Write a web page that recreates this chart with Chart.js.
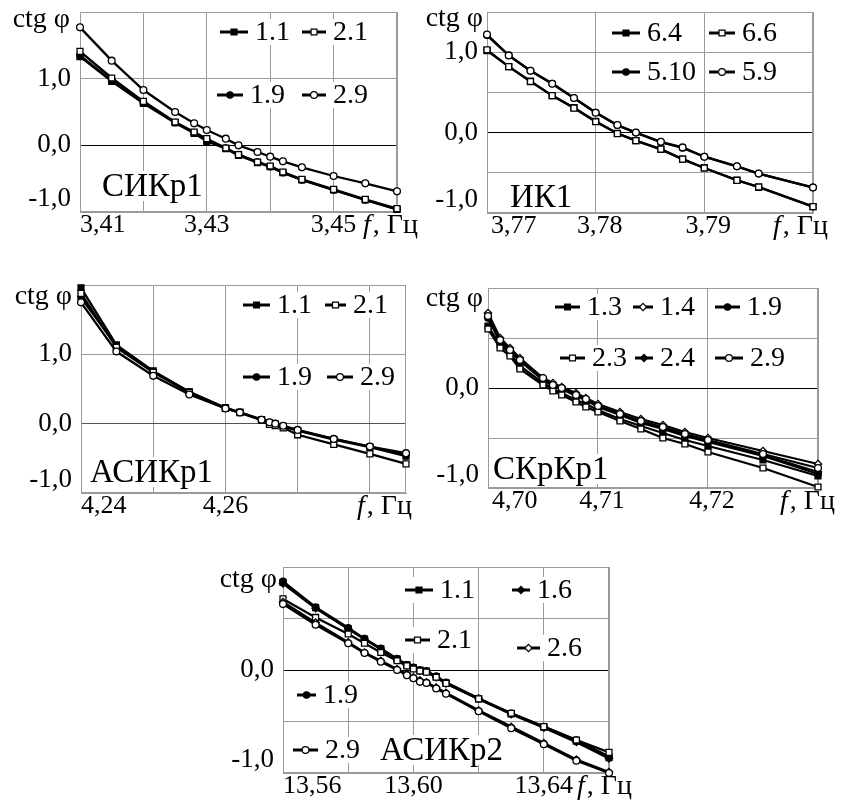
<!DOCTYPE html>
<html>
<head>
<meta charset="utf-8">
<script src="https://cdn.jsdelivr.net/npm/chart.js@4.4.0/dist/chart.umd.min.js"></script>
<style>
  html, body { margin: 0; padding: 0; background: #fff; }
  body { width: 842px; height: 812px; position: relative; overflow: hidden; }
  canvas { position: absolute; }
</style>
</head>
<body>
<script>
// ---------- СИКр1 ----------
const P1_F   = [3.410, 3.415, 3.420, 3.425, 3.428, 3.430, 3.433, 3.435, 3.438, 3.440, 3.442, 3.445, 3.450, 3.455, 3.460];
const P1_S11 = [1.33, 0.96, 0.63, 0.34, 0.18, 0.06, -0.05, -0.15, -0.26, -0.32, -0.41, -0.52, -0.67, -0.82, -0.96];
const P1_S21 = [1.41, 1.01, 0.66, 0.35, 0.20, 0.10, -0.04, -0.14, -0.25, -0.31, -0.40, -0.51, -0.66, -0.81, -0.95];
const P1_S19 = [1.35, 0.97, 0.64, 0.34, 0.19, 0.07, -0.04, -0.14, -0.25, -0.32, -0.41, -0.52, -0.67, -0.82, -0.96];
const P1_S29 = [1.77, 1.27, 0.83, 0.50, 0.33, 0.23, 0.10, 0.00, -0.10, -0.17, -0.24, -0.33, -0.46, -0.57, -0.69];
const P1_XTICKS = [3.41, 3.42, 3.43, 3.44, 3.45, 3.46];
const P1_XLABELS = ['3,41', '', '3,43', '', '3,45', ''];
const P1_YTICKS = [-1, 0, 1, 2];
const P1_YLABELS = ['-1,0', '0,0', '1,0', ''];

// ---------- ИК1 ----------
const P2_F    = [3.770, 3.772, 3.774, 3.776, 3.778, 3.780, 3.782, 3.7837, 3.786, 3.788, 3.790, 3.793, 3.795, 3.800];
const P2_S64  = [1.02, 0.82, 0.64, 0.46, 0.31, 0.14, -0.01, -0.10, -0.21, -0.33, -0.44, -0.59, -0.68, -0.92];
const P2_S66  = [1.03, 0.82, 0.635, 0.46, 0.305, 0.135, -0.012, -0.10, -0.205, -0.33, -0.44, -0.594, -0.676, -0.92];
const P2_S510 = [1.21, 0.96, 0.77, 0.61, 0.43, 0.25, 0.09, 0.0, -0.12, -0.19, -0.30, -0.42, -0.51, -0.68];
const P2_S59  = [1.22, 0.96, 0.77, 0.607, 0.43, 0.246, 0.094, 0.0, -0.115, -0.184, -0.30, -0.42, -0.51, -0.684];
const P2_XTICKS = [3.77, 3.78, 3.79, 3.80];
const P2_XLABELS = ['3,77', '3,78', '3,79', ''];
const P2_YTICKS = [-1, -0.5, 0, 0.5, 1, 1.5];
const P2_YLABELS = ['-1,0', '', '0,0', '', '1,0', ''];

// ---------- АСИКр1 ----------
const P3_F   = [4.2400, 4.2449, 4.2500, 4.2550, 4.2600, 4.2620, 4.2650, 4.2661, 4.2669, 4.2680, 4.2700, 4.2750, 4.2800, 4.2850];
const P3_S11 = [1.96, 1.135, 0.76, 0.46, 0.23, 0.165, 0.06, 0.01, -0.005, -0.04, -0.10, -0.23, -0.34, -0.47];
const P3_S21 = [1.88, 1.10, 0.74, 0.45, 0.22, 0.16, 0.05, -0.01, -0.03, -0.06, -0.16, -0.30, -0.435, -0.58];
const P3_S19 = [1.82, 1.12, 0.75, 0.455, 0.225, 0.165, 0.06, 0.015, 0.0, -0.04, -0.095, -0.22, -0.33, -0.45];
const P3_S29 = [1.75, 1.04, 0.69, 0.42, 0.22, 0.16, 0.055, 0.02, 0.0, -0.03, -0.09, -0.22, -0.33, -0.425];
const P3_XTICKS = [4.24, 4.25, 4.26, 4.27, 4.28];
const P3_XLABELS = ['4,24', '', '4,26', '', ''];
const P3_YTICKS = [-1, 0, 1, 2];
const P3_YLABELS = ['-1,0', '0,0', '1,0', ''];

// ---------- СКрКр1 ----------
const P4_F   = [4.7000, 4.7011, 4.7020, 4.7029, 4.7050, 4.7059, 4.7067, 4.7080, 4.7089, 4.7100, 4.7120, 4.7139, 4.7159, 4.7179, 4.7200, 4.7250, 4.7300];
const P4_S13 = [0.62, 0.43, 0.35, 0.22, 0.05, -0.01, -0.05, -0.12, -0.16, -0.22, -0.31, -0.38, -0.45, -0.52, -0.58, -0.72, -0.88];
const P4_S14 = [0.75, 0.50, 0.40, 0.30, 0.10, 0.05, 0.01, -0.05, -0.10, -0.16, -0.24, -0.31, -0.37, -0.44, -0.50, -0.63, -0.76];
const P4_S19 = [0.70, 0.46, 0.37, 0.27, 0.08, 0.02, -0.01, -0.08, -0.12, -0.19, -0.27, -0.35, -0.41, -0.48, -0.54, -0.68, -0.86];
const P4_S23 = [0.59, 0.40, 0.32, 0.19, 0.03, -0.03, -0.07, -0.14, -0.19, -0.24, -0.33, -0.41, -0.50, -0.56, -0.64, -0.80, -0.99];
const P4_S24 = [0.71, 0.47, 0.38, 0.28, 0.09, 0.03, 0.00, -0.07, -0.12, -0.18, -0.26, -0.34, -0.40, -0.47, -0.53, -0.67, -0.84];
const P4_S29 = [0.72, 0.48, 0.38, 0.28, 0.10, 0.03, 0.00, -0.07, -0.11, -0.18, -0.26, -0.33, -0.39, -0.46, -0.52, -0.66, -0.80];
const P4_XTICKS = [4.70, 4.71, 4.72, 4.73];
const P4_XLABELS = ['4,70', '4,71', '4,72', ''];
const P4_YTICKS = [-1, -0.5, 0, 0.5, 1];
const P4_YLABELS = ['-1,0', '', '0,0', '', ''];

// ---------- АСИКр2 ----------
const P5_F   = [13.560, 13.570, 13.580, 13.585, 13.590, 13.595, 13.598, 13.600, 13.602, 13.604, 13.607, 13.610, 13.620, 13.630, 13.640, 13.650, 13.660];
const P5_S11 = [0.85, 0.605, 0.40, 0.30, 0.205, 0.105, 0.05, 0.02, 0.0, -0.01, -0.065, -0.125, -0.28, -0.425, -0.555, -0.69, -0.85];
const P5_S16 = [0.84, 0.60, 0.40, 0.30, 0.20, 0.10, 0.045, 0.02, -0.005, -0.015, -0.07, -0.13, -0.28, -0.43, -0.56, -0.70, -0.86];
const P5_S19 = [0.86, 0.61, 0.41, 0.305, 0.21, 0.11, 0.05, 0.025, 0.0, -0.01, -0.06, -0.12, -0.275, -0.42, -0.55, -0.68, -0.84];
const P5_S21 = [0.69, 0.51, 0.35, 0.26, 0.17, 0.09, 0.04, 0.01, -0.01, -0.02, -0.07, -0.13, -0.28, -0.42, -0.55, -0.68, -0.80];
const P5_S26 = [0.66, 0.46, 0.27, 0.17, 0.09, 0.01, -0.04, -0.07, -0.10, -0.12, -0.17, -0.22, -0.39, -0.55, -0.71, -0.87, -0.99];
const P5_S29 = [0.64, 0.44, 0.26, 0.165, 0.08, 0.0, -0.05, -0.08, -0.115, -0.125, -0.18, -0.23, -0.40, -0.565, -0.72, -0.88, -1.0];
const P5_XTICKS = [13.56, 13.58, 13.60, 13.62, 13.64, 13.66];
const P5_XLABELS = ['13,56', '', '13,60', '', '13,64', ''];
const P5_YTICKS = [-1, -0.5, 0, 0.5, 1];
const P5_YLABELS = ['-1,0', '', '0,0', '', ''];

// ---------- drawing ----------
const SERIF = '"Liberation Serif", "Times New Roman", serif';
const GRID = '#9a9a9a';
const Y_GAP = 80, TOP_PAD = 12, X_BAND = 40, RIGHT_PAD = 34;

// marker kinds: [Chart.js pointStyle, filled, radius]
const MARK = {
  fsq: ['rect', true, 4.2], osq: ['rect', false, 4.2],
  fci: ['circle', true, 3.2], oci: ['circle', false, 3.4],
  fdi: ['rectRot', true, 3.6], odi: ['rectRot', false, 3.6]
};

function drawMarker(ctx, kind, x, y) {
  const [shape, filled, r] = MARK[kind];
  ctx.beginPath();
  if (shape === 'circle') ctx.arc(x, y, r, 0, Math.PI * 2);
  else if (shape === 'rect') { const s = r * Math.SQRT1_2; ctx.rect(x - s, y - s, 2 * s, 2 * s); }
  else { ctx.moveTo(x, y - r); ctx.lineTo(x + r, y); ctx.lineTo(x, y + r); ctx.lineTo(x - r, y); ctx.closePath(); }
  ctx.fillStyle = filled ? '#000' : '#fff';
  ctx.fill();
  ctx.lineWidth = 1.2;
  ctx.strokeStyle = '#000';
  ctx.stroke();
}

function dataset(label, xs, ys, kind) {
  const [shape, filled, r] = MARK[kind];
  return {
    label,
    data: xs.map((x, i) => ({ x, y: ys[i] })),
    showLine: true,
    borderColor: '#000',
    borderWidth: 2.3,
    tension: 0,
    pointStyle: shape,
    pointRadius: r,
    pointBackgroundColor: filled ? '#000' : '#fff',
    pointBorderColor: '#000',
    pointBorderWidth: 1.3,
    clip: false
  };
}

function decoPlugin(p) {
  return {
    id: 'deco',
    beforeDraw(chart) {
      // lowest y label sits on top of its grid line
      const items = chart.scales.y.getLabelItems(chart.chartArea);
      if (items.length) items[0].options.textBaseline = 'bottom';
    },
    beforeDatasetsDraw(chart) {
      const { ctx, chartArea: a } = chart;
      ctx.save();
      ctx.fillStyle = '#fff';
      ctx.font = '28px ' + SERIF;
      p.legend.forEach(e => {
        const w = ctx.measureText(e.t).width;
        ctx.fillRect(a.left + e.lx - 3, a.top + e.y - 13, e.tx - e.lx + w + 6, 26);
      });
      ctx.font = '33px ' + SERIF;
      const nw = ctx.measureText(p.name.t).width;
      ctx.fillRect(a.left + p.name.x - 2, a.top + p.name.y - 15, nw + 4, 30);
      ctx.strokeStyle = GRID;
      ctx.lineWidth = 1;
      ctx.strokeRect(Math.round(a.left) + 0.5, Math.round(a.top) + 0.5,
                     Math.round(a.right - a.left) - 1, Math.round(a.bottom - a.top) - 1);
      ctx.restore();
    },
    afterDatasetsDraw(chart) {
      const { ctx, chartArea: a } = chart;
      ctx.save();
      ctx.textBaseline = 'middle';
      ctx.textAlign = 'left';
      // legend entries
      p.legend.forEach(e => {
        const x0 = a.left + e.lx, x1 = a.left + e.tx - 7, y = a.top + e.y;
        ctx.beginPath();
        ctx.moveTo(x0, y); ctx.lineTo(x1, y);
        ctx.lineWidth = 3; ctx.strokeStyle = '#000'; ctx.stroke();
        drawMarker(ctx, e.k, (x0 + x1) / 2, y);
        ctx.fillStyle = '#000';
        ctx.font = '28px ' + SERIF;
        ctx.fillText(e.t, a.left + e.tx, y + 1);
      });
      // curve family caption
      ctx.fillStyle = '#000';
      ctx.font = '33px ' + SERIF;
      ctx.fillText(p.name.t, a.left + p.name.x, a.top + p.name.y + 1);
      // axis names
      ctx.font = '28px ' + SERIF;
      ctx.textAlign = 'right';
      ctx.fillText('ctg φ', a.left + p.ctg.dx, a.top + p.ctg.dy);
      ctx.textAlign = 'left';
      const fx = a.right + p.fx, fy = a.bottom + 14;
      ctx.font = 'italic 28px ' + SERIF;
      ctx.fillText('f', fx, fy);
      const fw = ctx.measureText('f').width;
      ctx.font = '28px ' + SERIF;
      ctx.fillText(', Гц', fx + fw + 2, fy);
      ctx.restore();
    }
  };
}

function makePanel(p) {
  const [pl, pt, pw, ph] = p.plot;
  const cv = document.createElement('canvas');
  const W = pw + Y_GAP + RIGHT_PAD, H = ph + TOP_PAD + X_BAND;
  cv.width = W; cv.height = H;
  cv.style.left = (pl - Y_GAP) + 'px';
  cv.style.top = (pt - TOP_PAD) + 'px';
  cv.style.width = W + 'px'; cv.style.height = H + 'px';
  document.body.appendChild(cv);

  const noPad = s => { s.paddingLeft = 0; s.paddingRight = 0; s.paddingTop = 0; s.paddingBottom = 0; };

  new Chart(cv, {
    type: 'scatter',
    data: { datasets: p.series.map(s => dataset(s[0], p.f, s[1], s[2])) },
    options: {
      responsive: false,
      animation: false,
      events: [],
      layout: { padding: { top: TOP_PAD, right: RIGHT_PAD, left: 0, bottom: 0 } },
      plugins: { legend: { display: false }, tooltip: { enabled: false } },
      scales: {
        x: {
          type: 'linear', min: p.x.min, max: p.x.max,
          afterBuildTicks: s => { s.ticks = p.x.ticks.map(v => ({ value: v })); },
          afterFit: s => { s.height = X_BAND; noPad(s); },
          grid: { color: GRID, lineWidth: 1, drawTicks: false },
          border: { color: GRID, width: 1 },
          ticks: {
            autoSkip: false, maxRotation: 0, minRotation: 0, align: 'inner',
            padding: -2, labelOffset: p.x.off, color: '#000',
            font: { family: SERIF, size: 26 },
            callback: (v, i) => p.x.labels[i]
          }
        },
        y: {
          type: 'linear', min: p.y.min, max: p.y.max,
          afterBuildTicks: s => { s.ticks = p.y.ticks.map(v => ({ value: v })); },
          afterFit: s => { s.width = Y_GAP; noPad(s); },
          grid: {
            color: c => (c.tick && c.tick.value === 0) ? p.zero : GRID,
            lineWidth: 1, drawTicks: false
          },
          border: { color: GRID, width: 1 },
          ticks: {
            autoSkip: false, padding: 9, color: '#000',
            font: { family: SERIF, size: 27 },
            callback: (v, i) => p.y.labels[i]
          }
        }
      }
    },
    plugins: [decoPlugin(p)]
  });
}

const PANELS = [
  {
    plot: [80, 12, 317, 200], f: P1_F, zero: '#000',
    x: { min: 3.41, max: 3.46, ticks: P1_XTICKS, labels: P1_XLABELS, off: 0 },
    y: { min: -1, max: 2, ticks: P1_YTICKS, labels: P1_YLABELS },
    series: [['2.1', P1_S21, 'osq'], ['1.1', P1_S11, 'fsq'], ['2.9', P1_S29, 'oci'], ['1.9', P1_S19, 'fci']],
    legend: [
      { t: '1.1', k: 'fsq', lx: 140, y: 20, tx: 175 },
      { t: '2.1', k: 'osq', lx: 222, y: 20, tx: 253 },
      { t: '1.9', k: 'fci', lx: 137, y: 83, tx: 170 },
      { t: '2.9', k: 'oci', lx: 222, y: 83, tx: 253 }
    ],
    name: { t: 'СИКр1', x: 22, y: 174 }, ctg: { dx: -10, dy: 8 }, fx: -34
  },
  {
    plot: [487, 12, 326, 201], f: P2_F, zero: '#000',
    x: { min: 3.77, max: 3.80, ticks: P2_XTICKS, labels: P2_XLABELS, off: 4 },
    y: { min: -1, max: 1.5, ticks: P2_YTICKS, labels: P2_YLABELS },
    series: [['6.6', P2_S66, 'osq'], ['6.4', P2_S64, 'fsq'], ['5.9', P2_S59, 'oci'], ['5.10', P2_S510, 'fci']],
    legend: [
      { t: '6.4', k: 'fsq', lx: 125, y: 21, tx: 160 },
      { t: '6.6', k: 'osq', lx: 222, y: 21, tx: 255 },
      { t: '5.10', k: 'fci', lx: 125, y: 60, tx: 160 },
      { t: '5.9', k: 'oci', lx: 222, y: 60, tx: 255 }
    ],
    name: { t: 'ИК1', x: 23, y: 185 }, ctg: { dx: -4, dy: 7 }, fx: -40
  },
  {
    plot: [81, 285, 325, 208], f: P3_F, zero: '#555',
    x: { min: 4.24, max: 4.285, ticks: P3_XTICKS, labels: P3_XLABELS, off: 0 },
    y: { min: -1, max: 2, ticks: P3_YTICKS, labels: P3_YLABELS },
    series: [['2.9', P3_S29, 'oci'], ['2.1', P3_S21, 'osq'], ['1.9', P3_S19, 'fci'], ['1.1', P3_S11, 'fsq']],
    legend: [
      { t: '1.1', k: 'fsq', lx: 162, y: 20, tx: 196 },
      { t: '2.1', k: 'osq', lx: 244, y: 20, tx: 272 },
      { t: '1.9', k: 'fci', lx: 162, y: 92, tx: 196 },
      { t: '2.9', k: 'oci', lx: 246, y: 92, tx: 279 }
    ],
    name: { t: 'АСИКр1', x: 9, y: 187 }, ctg: { dx: -9, dy: 12 }, fx: -49
  },
  {
    plot: [488, 288, 330, 200], f: P4_F, zero: '#000',
    x: { min: 4.70, max: 4.73, ticks: P4_XTICKS, labels: P4_XLABELS, off: 4 },
    y: { min: -1, max: 1, ticks: P4_YTICKS, labels: P4_YLABELS },
    series: [['2.9', P4_S29, 'oci'], ['1.4', P4_S14, 'odi'], ['2.3', P4_S23, 'osq'],
             ['2.4', P4_S24, 'fdi'], ['1.9', P4_S19, 'fci'], ['1.3', P4_S13, 'fsq']],
    legend: [
      { t: '1.3', k: 'fsq', lx: 67, y: 19, tx: 99 },
      { t: '1.4', k: 'odi', lx: 145, y: 19, tx: 172 },
      { t: '1.9', k: 'fci', lx: 227, y: 19, tx: 259 },
      { t: '2.3', k: 'osq', lx: 72, y: 70, tx: 104 },
      { t: '2.4', k: 'fdi', lx: 147, y: 70, tx: 172 },
      { t: '2.9', k: 'oci', lx: 227, y: 70, tx: 262 }
    ],
    name: { t: 'СКрКр1', x: 5, y: 181 }, ctg: { dx: -5, dy: 11 }, fx: -38
  },
  {
    plot: [283, 567, 326, 206], f: P5_F, zero: '#000',
    x: { min: 13.56, max: 13.66, ticks: P5_XTICKS, labels: P5_XLABELS, off: 0 },
    y: { min: -1, max: 1, ticks: P5_YTICKS, labels: P5_YLABELS },
    series: [['2.9', P5_S29, 'oci'], ['2.6', P5_S26, 'odi'], ['2.1', P5_S21, 'osq'],
             ['1.1', P5_S11, 'fsq'], ['1.6', P5_S16, 'fdi'], ['1.9', P5_S19, 'fci']],
    legend: [
      { t: '1.1', k: 'fsq', lx: 122, y: 23, tx: 157 },
      { t: '1.6', k: 'fdi', lx: 229, y: 23, tx: 254 },
      { t: '2.1', k: 'osq', lx: 122, y: 73, tx: 154 },
      { t: '2.6', k: 'odi', lx: 234, y: 81, tx: 264 },
      { t: '1.9', k: 'fci', lx: 14, y: 128, tx: 40 },
      { t: '2.9', k: 'oci', lx: 10, y: 183, tx: 42 }
    ],
    name: { t: 'АСИКр2', x: 97, y: 183 }, ctg: { dx: -6, dy: 13 }, fx: -32
  }
];

PANELS.forEach(makePanel);
</script>
</body>
</html>
